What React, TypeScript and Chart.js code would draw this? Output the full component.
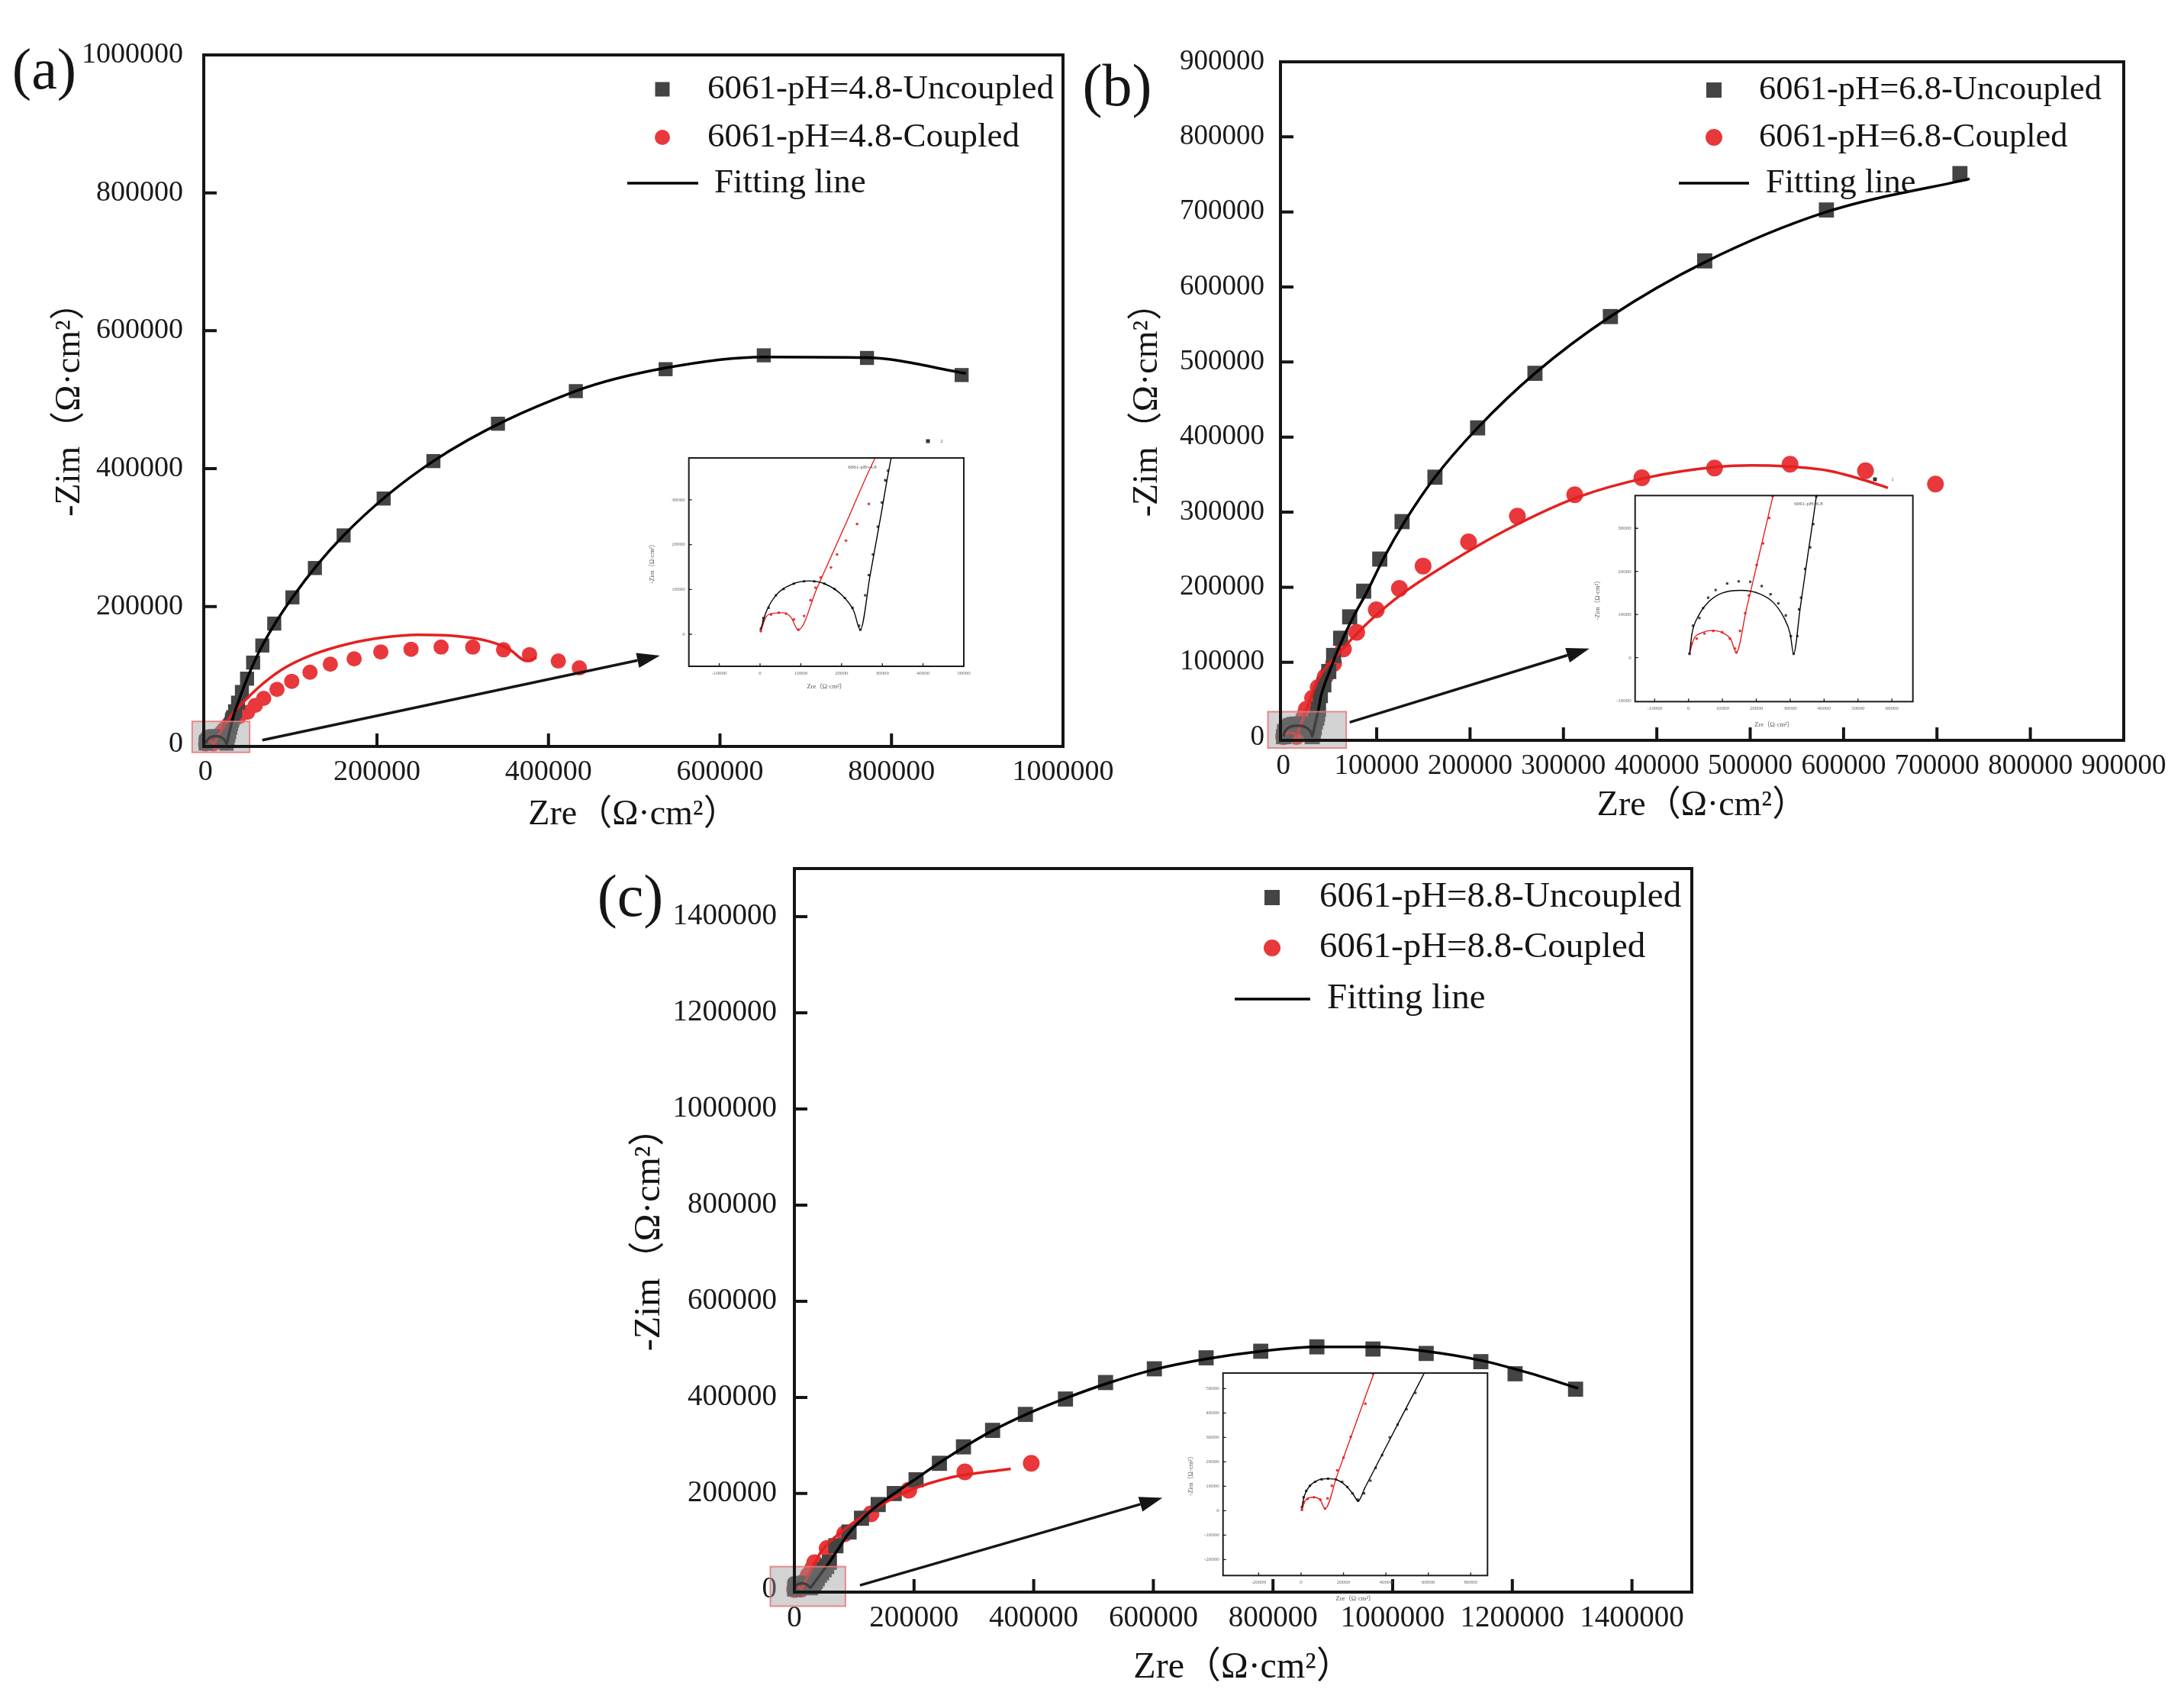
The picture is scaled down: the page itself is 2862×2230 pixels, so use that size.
import React, { useEffect, useRef } from 'react';
import { Chart, registerables } from 'chart.js';

Chart.register(...registerables);

type Pt = [number, number];

// ---------- (a) 6061, pH = 4.8 ----------
const A_UNCOUPLED: Pt[] = [
  [200, 1200], [800, 3600], [2100, 5900], [3900, 8700], [5800, 10100], [8300, 11300], [10800, 11800],
  [13300, 11800], [15800, 11300], [18300, 10100], [20800, 8100], [22700, 5900], [24300, 1900], [24600, 1000],
  [25800, 8700], [26700, 13200], [27700, 17800], [28900, 24000], [29900, 29400], [30800, 34300], [31400, 36500],
  [32200, 39400], [34500, 48000], [38000, 60500], [42500, 76000], [48500, 95300], [55600, 118600],
  [66300, 143400], [80200, 175200], [101400, 213200], [127600, 255800], [161100, 303100], [207800, 356600],
  [265800, 410900], [341100, 465100], [431900, 512400], [536600, 544200], [651100, 564300], [771400, 560500],
  [881800, 535700],
];
const A_COUPLED: Pt[] = [
  [200, 700], [800, 3000], [2700, 4400], [4600, 4800], [6400, 4600], [8300, 3300], [9400, 1000], [10800, 4100],
  [12400, 7600], [13600, 10400], [14900, 12700], [17400, 14900], [18900, 17800], [21100, 20900], [23800, 24600],
  [26700, 29100], [30700, 34400], [39000, 40000], [49100, 46500], [58100, 56600], [67900, 66700], [83400, 79800],
  [100600, 91500], [121900, 104700], [145600, 116300], [173400, 124000], [204500, 134100], [239700, 138000],
  [274800, 141100], [311700, 141100], [347600, 137200], [377900, 130200], [411500, 120900], [436000, 110900],
];
const A_UNCOUPLED_FIT: Pt[] = [
  [200, 1200], [1500, 5000], [4000, 8800], [8000, 11200], [12000, 11900], [16000, 11200], [20000, 8800],
  [23000, 5200], [24600, 1000], [27000, 13100], [29500, 25700], [32200, 39400], [38000, 60500], [48500, 95300],
  [66300, 143400], [101400, 213200], [161100, 303100], [265800, 410900], [431900, 512400], [536600, 546000],
  [651100, 562000], [771400, 561000], [887000, 538000],
];
const A_COUPLED_FIT: Pt[] = [
  [200, 700], [1500, 3900], [3500, 4700], [5500, 4800], [7500, 3900], [9400, 1000], [14000, 10350],
  [21000, 24570], [28300, 39400], [40000, 56000], [52000, 71000], [67900, 89000], [92400, 110900],
  [125200, 130200], [166000, 145700], [206900, 155000], [247900, 158900], [288700, 157400], [330000, 149600],
  [354200, 138000], [374600, 121000], [386000, 126000],
];
const A_TICKS_X = [0, 200000, 400000, 600000, 800000, 1000000];
const A_TICKS_Y = [0, 200000, 400000, 600000, 800000, 1000000];
const A_INSET_TICKS_X = [-10000, 0, 10000, 20000, 30000, 40000, 50000];
const A_INSET_TICKS_Y = [0, 10000, 20000, 30000];
const A_NAMES = ['6061-pH=4.8-Uncoupled', '6061-pH=4.8-Coupled'];

// ---------- (b) 6061, pH = 6.8 ----------
const B_UNCOUPLED: Pt[] = [
  [300, 900], [1300, 7400], [3200, 9200], [4300, 11500], [5800, 13900], [8000, 15700], [11400, 17200],
  [14800, 17700], [18200, 17600], [21600, 16600], [24200, 14700], [26500, 12600], [28700, 9800], [30200, 5000],
  [31000, 900], [32100, 5000], [32600, 11200], [33200, 13900], [34400, 20600], [35900, 25600], [36800, 31000],
  [37700, 37400], [39700, 55600], [43400, 69900], [48700, 87700], [53900, 109100], [61400, 132000],
  [71100, 160500], [86100, 194700], [103300, 237500], [127200, 287400], [162400, 346600], [208100, 412300],
  [269500, 485000], [350300, 560600], [451300, 634800], [581600, 702600], [724600, 751100],
];
const B_COUPLED: Pt[] = [
  [300, 900], [900, 3200], [2400, 4400], [4700, 5600], [7300, 6200], [9900, 5900], [12200, 4400], [13700, 2100],
  [14100, 1200], [15200, 6200], [16700, 10300], [17800, 14400], [20100, 21500], [22000, 26500], [23800, 32400],
  [24800, 37400], [31400, 52100], [37400, 66300], [44900, 80600], [53900, 98400], [64400, 117700],
  [78600, 139800], [99600, 169800], [124300, 198300], [149700, 228200], [198400, 260300], [250700, 294600],
  [312100, 323100], [384000, 345900], [461800, 358800], [542700, 363800], [623500, 355200], [698400, 337400],
];
const B_UNCOUPLED_FIT: Pt[] = [
  [300, 900], [1000, 5500], [3000, 9800], [6000, 13000], [10000, 15000], [15500, 15600], [21000, 14800],
  [25000, 12800], [28000, 9500], [30000, 5500], [31000, 900], [33000, 11800], [35000, 22700], [37800, 38000],
  [40500, 55600], [44000, 69900], [49500, 87700], [56000, 109100], [64000, 132000], [75000, 160500],
  [90000, 194700], [107000, 237500], [130000, 287400], [162400, 346600], [208100, 412300], [269500, 485000],
  [350300, 560600], [451300, 633000], [581600, 700000], [735000, 744000],
];
const B_COUPLED_FIT: Pt[] = [
  [300, 900], [1500, 4200], [4000, 5800], [7000, 6300], [10000, 5800], [12500, 4200], [14100, 1200],
  [17000, 10930], [21000, 24380], [25000, 37800], [37400, 77000], [59900, 112700], [89800, 151900],
  [127200, 191200], [179600, 233900], [239500, 276700], [314400, 319500], [389200, 345900], [464100, 360200],
  [501500, 362300], [538900, 360900], [583800, 355200], [621300, 343000], [647500, 332400],
];
const B_TICKS_X = [0, 100000, 200000, 300000, 400000, 500000, 600000, 700000, 800000, 900000];
const B_TICKS_Y = [0, 100000, 200000, 300000, 400000, 500000, 600000, 700000, 800000, 900000];
const B_INSET_TICKS_X = [-10000, 0, 10000, 20000, 30000, 40000, 50000, 60000];
const B_INSET_TICKS_Y = [-10000, 0, 10000, 20000, 30000];
const B_NAMES = ['6061-pH=6.8-Uncoupled', '6061-pH=6.8-Coupled'];

// ---------- (c) 6061, pH = 8.8 ----------
const C_UNCOUPLED: Pt[] = [
  [400, 1350], [1200, 5500], [2400, 8100], [4200, 10200], [6700, 11800], [9700, 12800], [12700, 13100],
  [16400, 12800], [19400, 11800], [21800, 9700], [24200, 7100], [26700, 4500], [26900, 4000], [29700, 7100],
  [32700, 12300], [35200, 17500], [38200, 22700], [41800, 30000], [45500, 35200], [49700, 41500], [53900, 48200],
  [58500, 57100], [69400, 91400], [91400, 120000], [112100, 148600], [140100, 177100], [166900, 200000],
  [203400, 228600], [242400, 262900], [282600, 297100], [331300, 331400], [386100, 364600], [453100, 396600],
  [520100, 430900], [601700, 459400], [688200, 482300], [779500, 496000], [873300, 505100], [967100, 500600],
  [1056000, 491400], [1147400, 474300], [1204600, 449100], [1305700, 417100],
];
const C_COUPLED: Pt[] = [
  [400, 300], [1200, 3400], [3000, 4800], [6100, 5500], [9100, 4500], [11300, 800], [12500, 5000],
  [14500, 10200], [17000, 16500], [20000, 21700], [23400, 30200], [30300, 43800], [33900, 56000],
  [54800, 85700], [84000, 116600], [127900, 157700], [191200, 207000], [285000, 245000], [395900, 263000],
];
const C_UNCOUPLED_FIT: Pt[] = [
  [400, 1350], [1500, 6000], [4000, 10000], [8000, 12500], [12700, 13100], [17000, 12600], [21000, 10300],
  [24500, 6800], [26900, 4000], [30000, 9200], [35000, 17600], [42000, 29400], [50000, 42800], [58500, 57100],
  [75000, 88000], [91400, 118000], [112100, 146000], [140100, 176000], [166900, 200000], [203400, 231000],
  [242400, 264000], [282600, 296000], [331300, 331000], [386100, 364000], [453100, 398000], [520100, 428000],
  [601700, 458000], [688200, 480000], [779500, 496000], [873300, 505000], [967100, 505000], [1056000, 496000],
  [1147400, 477000], [1230000, 450000], [1310000, 419000],
];
const C_COUPLED_FIT: Pt[] = [
  [400, 300], [2000, 4200], [5500, 5500], [9000, 4500], [11300, 800], [17000, 14510], [25000, 33750],
  [34500, 56600], [45100, 80000], [81700, 123400], [130300, 165700], [191200, 205700], [264300, 234300],
  [325200, 245700], [361700, 251400],
];
const C_TICKS_X = [0, 200000, 400000, 600000, 800000, 1000000, 1200000, 1400000];
const C_TICKS_Y = [0, 200000, 400000, 600000, 800000, 1000000, 1200000, 1400000];
const C_INSET_TICKS_X = [-20000, 0, 20000, 40000, 60000, 80000];
const C_INSET_TICKS_Y = [-20000, -10000, 0, 10000, 20000, 30000, 40000, 50000];
const C_NAMES = ['6061-pH=8.8-Uncoupled', '6061-pH=8.8-Coupled'];

const FIT_NAME = 'Fitting line';
const X_TITLE = 'Zre（Ω·cm²）';
const Y_TITLE = '-Zim（Ω·cm²）';

// ---------- styling ----------
const SERIF = "'Liberation Serif', 'Times New Roman', 'Noto Sans CJK SC', serif";
const GREY = '#444444';
const RED = '#e8383b';
const RED_LINE = '#e3211f';
const INK = '#151515';

interface Box { left: number; top: number; right: number; bottom: number; }
interface Series { uncoupled: Pt[]; coupled: Pt[]; uncoupledFit: Pt[]; coupledFit: Pt[]; }

interface Spec {
  canvas: Box;
  area: Box;
  xRange: [number, number];
  yRange: [number, number];
  xTicks: number[];
  yTicks: number[];
  tickFont: number;
  tickColor: string;
  tickPadX: number;
  tickPadY: number;
  titleFont: number;
  titleColor: string;
  xTitleY: number;
  yTitleX: number;
  series: Series;
  squareR: number;
  circleR: number;
  fitWidth: number;
  clip: number | false;
  whiteArea: boolean;
  decor: (chart: Chart, s: Spec) => void;
}

interface MainExtras {
  names: string[];
  legend: { markerX: number; rows: number[]; lineX: [number, number]; textX: number; fitTextX: number; font: number; square: number; circle: number };
  tag: { text: string; x: number; y: number; size: number };
  zoomBox: [number, number, number, number];
  arrow: [number, number, number, number];
}

interface InsetExtras {
  notes: { text: string; x: number; y: number }[];
  marks: { x: number; y: number }[];
}

// short tick marks pointing into the plot area
function inwardTicks(chart: Chart, len: number, width: number) {
  const { ctx, chartArea: a } = chart;
  const xs = chart.scales.x;
  const ys = chart.scales.y;
  ctx.lineWidth = width;
  ctx.beginPath();
  for (const t of xs.ticks) {
    const p = xs.getPixelForValue(t.value);
    if (p - a.left < 4 || a.right - p < 4) continue;
    ctx.moveTo(p, a.bottom);
    ctx.lineTo(p, a.bottom - len);
  }
  for (const t of ys.ticks) {
    const p = ys.getPixelForValue(t.value);
    if (p - a.top < 4 || a.bottom - p < 4) continue;
    ctx.moveTo(a.left, p);
    ctx.lineTo(a.left + len, p);
  }
  ctx.stroke();
}

function mainDecor(ex: MainExtras) {
  return (chart: Chart, s: Spec) => {
    const { ctx, chartArea: a } = chart;
    const xs = chart.scales.x;
    const ys = chart.scales.y;
    const ox = s.canvas.left;
    const oy = s.canvas.top;
    ctx.save();

    // shaded zoom window at the origin
    const [bx0, by0, bx1, by1] = ex.zoomBox;
    const p0x = xs.getPixelForValue(bx0);
    const p1x = xs.getPixelForValue(bx1);
    const p0y = ys.getPixelForValue(by0);
    const p1y = ys.getPixelForValue(by1);
    ctx.fillStyle = 'rgba(150,150,150,0.42)';
    ctx.fillRect(p0x, p0y, p1x - p0x, p1y - p0y);
    ctx.strokeStyle = 'rgba(232,120,120,0.85)';
    ctx.lineWidth = 2;
    ctx.strokeRect(p0x, p0y, p1x - p0x, p1y - p0y);

    // arrow pointing to the inset
    const [ax0, ay0, ax1, ay1] = ex.arrow;
    const x0 = xs.getPixelForValue(ax0);
    const y0 = ys.getPixelForValue(ay0);
    const x1 = xs.getPixelForValue(ax1);
    const y1 = ys.getPixelForValue(ay1);
    const ang = Math.atan2(y1 - y0, x1 - x0);
    const head = 30;
    const hw = 10;
    const hx = x1 - head * Math.cos(ang);
    const hy = y1 - head * Math.sin(ang);
    ctx.strokeStyle = INK;
    ctx.fillStyle = INK;
    ctx.lineWidth = 3.5;
    ctx.beginPath();
    ctx.moveTo(x0, y0);
    ctx.lineTo(hx, hy);
    ctx.stroke();
    ctx.beginPath();
    ctx.moveTo(x1, y1);
    ctx.lineTo(hx + hw * Math.sin(ang), hy - hw * Math.cos(ang));
    ctx.lineTo(hx - hw * Math.sin(ang), hy + hw * Math.cos(ang));
    ctx.closePath();
    ctx.fill();

    // frame and inward ticks
    ctx.strokeStyle = INK;
    ctx.lineWidth = 4;
    ctx.strokeRect(a.left, a.top, a.right - a.left, a.bottom - a.top);
    inwardTicks(chart, 17, 4);

    // legend
    const L = ex.legend;
    const mx = L.markerX - ox;
    ctx.fillStyle = GREY;
    ctx.fillRect(mx - L.square / 2, L.rows[0] - oy - L.square / 2, L.square, L.square);
    ctx.fillStyle = RED;
    ctx.beginPath();
    ctx.arc(mx, L.rows[1] - oy, L.circle, 0, Math.PI * 2);
    ctx.fill();
    ctx.strokeStyle = '#000';
    ctx.lineWidth = 3.5;
    ctx.beginPath();
    ctx.moveTo(L.lineX[0] - ox, L.rows[2] - oy);
    ctx.lineTo(L.lineX[1] - ox, L.rows[2] - oy);
    ctx.stroke();
    ctx.fillStyle = INK;
    ctx.font = `${L.font}px ${SERIF}`;
    ctx.textAlign = 'left';
    ctx.textBaseline = 'middle';
    ctx.fillText(ex.names[0], L.textX - ox, L.rows[0] - oy);
    ctx.fillText(ex.names[1], L.textX - ox, L.rows[1] - oy);
    ctx.fillText(FIT_NAME, L.fitTextX - ox, L.rows[2] - oy);

    // panel tag
    ctx.font = `${ex.tag.size}px ${SERIF}`;
    ctx.textAlign = 'center';
    ctx.fillText(ex.tag.text, ex.tag.x - ox, ex.tag.y - oy);
    ctx.restore();
  };
}

function insetDecor(ex: InsetExtras) {
  return (chart: Chart, s: Spec) => {
    const { ctx, chartArea: a } = chart;
    ctx.save();
    ctx.strokeStyle = '#1c1c1c';
    ctx.lineWidth = 2;
    ctx.strokeRect(a.left, a.top, a.right - a.left, a.bottom - a.top);
    inwardTicks(chart, 4, 1.3);
    ctx.fillStyle = '#555';
    ctx.font = `7px ${SERIF}`;
    ctx.textAlign = 'center';
    ctx.textBaseline = 'middle';
    for (const n of ex.notes) ctx.fillText(n.text, n.x - s.canvas.left, n.y - s.canvas.top);
    ctx.fillStyle = '#333';
    for (const m of ex.marks) ctx.fillRect(m.x - s.canvas.left - 2.5, m.y - s.canvas.top - 2.5, 5, 5);
    ctx.restore();
  };
}

const toXY = (pts: Pt[]) => pts.map(([x, y]) => ({ x, y }));

function buildChart(el: HTMLCanvasElement, s: Spec): Chart {
  const cb = s.canvas;
  const area = s.area;
  const half = s.titleFont * 0.6;
  const tickFont = { family: SERIF, size: s.tickFont };
  const titleFont = { family: SERIF, size: s.titleFont };
  const plugin = {
    id: 'panelDecor',
    beforeDraw(chart: Chart) {
      if (!s.whiteArea) return;
      const { ctx, chartArea: a } = chart;
      ctx.save();
      ctx.fillStyle = '#ffffff';
      ctx.fillRect(a.left, a.top, a.right - a.left, a.bottom - a.top);
      ctx.restore();
    },
    afterDatasetsDraw(chart: Chart) {
      s.decor(chart, s);
    },
  };
  return new Chart(el, {
    type: 'scatter',
    data: {
      datasets: [
        { data: toXY(s.series.uncoupledFit), showLine: true, pointRadius: 0, borderColor: '#000', borderWidth: s.fitWidth, cubicInterpolationMode: 'monotone', order: 0, clip: s.clip },
        { data: toXY(s.series.coupledFit), showLine: true, pointRadius: 0, borderColor: RED_LINE, borderWidth: s.fitWidth, cubicInterpolationMode: 'monotone', order: 0, clip: s.clip },
        { data: toXY(s.series.uncoupled), pointStyle: 'rect', pointRadius: s.squareR, backgroundColor: GREY, borderColor: GREY, borderWidth: 0, order: 1, clip: s.clip },
        { data: toXY(s.series.coupled), pointStyle: 'circle', pointRadius: s.circleR, backgroundColor: RED, borderColor: RED, borderWidth: 0, order: 1, clip: s.clip },
      ],
    } as any,
    options: {
      responsive: false,
      animation: false,
      devicePixelRatio: 1,
      events: [],
      layout: { padding: { left: 0, top: area.top - cb.top, right: cb.right - area.right, bottom: 0 } },
      plugins: { legend: { display: false }, tooltip: { enabled: false } },
      scales: {
        x: {
          type: 'linear',
          position: 'bottom',
          min: s.xRange[0],
          max: s.xRange[1],
          grid: { display: false, drawTicks: false },
          border: { display: false },
          ticks: { autoSkip: false, maxRotation: 0, minRotation: 0, padding: s.tickPadX, font: tickFont, color: s.tickColor, callback: (v: any) => String(v) },
          title: { display: true, text: X_TITLE, font: titleFont, color: s.titleColor, padding: { top: 0, bottom: cb.bottom - s.xTitleY - half } },
          afterBuildTicks: (sc: any) => { sc.ticks = s.xTicks.map((value) => ({ value })); },
          afterFit: (sc: any) => { sc.height = cb.bottom - area.bottom; sc.paddingLeft = 0; sc.paddingRight = 0; },
        },
        y: {
          type: 'linear',
          position: 'left',
          min: s.yRange[0],
          max: s.yRange[1],
          grid: { display: false, drawTicks: false },
          border: { display: false },
          ticks: { autoSkip: false, padding: s.tickPadY, font: tickFont, color: s.tickColor, callback: (v: any) => String(v) },
          title: { display: true, text: Y_TITLE, font: titleFont, color: s.titleColor, padding: { top: s.yTitleX - cb.left - half, bottom: 0 } },
          afterBuildTicks: (sc: any) => { sc.ticks = s.yTicks.map((value) => ({ value })); },
          afterFit: (sc: any) => { sc.width = area.left - cb.left; sc.paddingTop = 0; sc.paddingBottom = 0; },
        },
      },
    } as any,
    plugins: [plugin as any],
  });
}

const SERIES_A: Series = { uncoupled: A_UNCOUPLED, coupled: A_COUPLED, uncoupledFit: A_UNCOUPLED_FIT, coupledFit: A_COUPLED_FIT };
const SERIES_B: Series = { uncoupled: B_UNCOUPLED, coupled: B_COUPLED, uncoupledFit: B_UNCOUPLED_FIT, coupledFit: B_COUPLED_FIT };
const SERIES_C: Series = { uncoupled: C_UNCOUPLED, coupled: C_COUPLED, uncoupledFit: C_UNCOUPLED_FIT, coupledFit: C_COUPLED_FIT };

const mainBase = { tickColor: '#1a1a1a', titleColor: '#141414', fitWidth: 3.5, clip: false as const, whiteArea: false };
const insetBase = { tickFont: 7, tickColor: '#6a6a6a', titleFont: 8.5, titleColor: '#555', squareR: 2.2, circleR: 1.8, fitWidth: 1.4, clip: 1, whiteArea: true, tickPadX: 5, tickPadY: 5 };

const SPECS: Spec[] = [
  {
    ...mainBase,
    canvas: { left: 0, top: 30, right: 1480, bottom: 1130 },
    area: { left: 267, top: 72, right: 1393, bottom: 978 },
    xRange: [-2000, 1000000], yRange: [-3000, 1000000],
    xTicks: A_TICKS_X, yTicks: A_TICKS_Y,
    tickFont: 38, tickPadX: 11, tickPadY: 27,
    titleFont: 46, xTitleY: 1068, yTitleX: 92,
    series: SERIES_A, squareR: 13, circleR: 10,
    decor: mainDecor({
      names: A_NAMES,
      legend: { markerX: 868, rows: [117, 180, 240], lineX: [822, 915], textX: 927, fitTextX: 936, font: 45, square: 19, circle: 10 },
      tag: { text: '(a)', x: 58, y: 96, size: 76 },
      zoomBox: [-15500, 33300, 51500, -11600],
      arrow: [66300, 6200, 530000, 128700],
    }),
  },
  {
    ...mainBase,
    canvas: { left: 1400, top: 30, right: 2860, bottom: 1130 },
    area: { left: 1678, top: 81, right: 2783, bottom: 970 },
    xRange: [-3000, 900000], yRange: [-4000, 900000],
    xTicks: B_TICKS_X, yTicks: B_TICKS_Y,
    tickFont: 37, tickPadX: 12, tickPadY: 21,
    titleFont: 46, xTitleY: 1056, yTitleX: 1504,
    series: SERIES_B, squareR: 14, circleR: 11,
    decor: mainDecor({
      names: B_NAMES,
      legend: { markerX: 2246, rows: [118, 180, 240], lineX: [2200, 2292], textX: 2305, fitTextX: 2314, font: 44.5, square: 20, circle: 11 },
      tag: { text: '(b)', x: 1464, y: 118, size: 78 },
      zoomBox: [-16500, 34200, 67400, -14300],
      arrow: [71100, 20000, 327800, 118400],
    }),
  },
  {
    ...mainBase,
    canvas: { left: 760, top: 1110, right: 2280, bottom: 2230 },
    area: { left: 1041, top: 1138, right: 2217, bottom: 2086 },
    xRange: [0, 1500000], yRange: [-5000, 1500000],
    xTicks: C_TICKS_X, yTicks: C_TICKS_Y,
    tickFont: 39, tickPadX: 11, tickPadY: 23,
    titleFont: 48, xTitleY: 2185, yTitleX: 851,
    series: SERIES_C, squareR: 14, circleR: 11,
    decor: mainDecor({
      names: C_NAMES,
      legend: { markerX: 1667, rows: [1176, 1242, 1309], lineX: [1618, 1717], textX: 1729, fitTextX: 1739, font: 47, square: 20, circle: 11 },
      tag: { text: '(c)', x: 826, y: 1180, size: 78 },
      zoomBox: [-40200, 48000, 85300, -34300],
      arrow: [109600, 9100, 615100, 190900],
    }),
  },
  {
    ...insetBase,
    canvas: { left: 840, top: 560, right: 1280, bottom: 910 },
    area: { left: 902.7, top: 600, right: 1263, bottom: 873 },
    xRange: [-17470, 50000], yRange: [-7150, 39350],
    xTicks: A_INSET_TICKS_X, yTicks: A_INSET_TICKS_Y,
    xTitleY: 900, yTitleX: 855,
    series: SERIES_A,
    decor: insetDecor({ notes: [{ text: '6061-pH=4.8', x: 1130, y: 612 }, { text: '2', x: 1234, y: 578 }], marks: [{ x: 1216, y: 578 }] }),
  },
  {
    ...insetBase,
    canvas: { left: 2080, top: 600, right: 2520, bottom: 962 },
    area: { left: 2142.7, top: 649.3, right: 2506.7, bottom: 919.3 },
    xRange: [-15770, 66200], yRange: [-10200, 37600],
    xTicks: B_INSET_TICKS_X, yTicks: B_INSET_TICKS_Y,
    xTitleY: 950, yTitleX: 2094,
    series: SERIES_B,
    decor: insetDecor({ notes: [{ text: '6061-pH=6.8', x: 2370, y: 660 }, { text: '1', x: 2480, y: 628 }], marks: [{ x: 2457, y: 628 }] }),
  },
  {
    ...insetBase,
    canvas: { left: 1540, top: 1780, right: 1960, bottom: 2105 },
    area: { left: 1602.7, top: 1799, right: 1949.3, bottom: 2064.3 },
    xRange: [-36800, 87900], yRange: [-26560, 56340],
    xTicks: C_INSET_TICKS_X, yTicks: C_INSET_TICKS_Y,
    xTitleY: 2095, yTitleX: 1561,
    series: SERIES_C,
    decor: insetDecor({ notes: [], marks: [] }),
  },
];

function ChartCanvas({ spec }: { spec: Spec }) {
  const ref = useRef<HTMLCanvasElement>(null);
  const w = spec.canvas.right - spec.canvas.left;
  const h = spec.canvas.bottom - spec.canvas.top;
  useEffect(() => {
    if (!ref.current) return;
    const chart = buildChart(ref.current, spec);
    return () => chart.destroy();
  }, [spec]);
  return (
    <canvas
      ref={ref}
      width={w}
      height={h}
      style={{ position: 'absolute', left: spec.canvas.left, top: spec.canvas.top, width: w, height: h }}
    />
  );
}

export default function App() {
  return (
    <div style={{ position: 'absolute', left: 0, top: 0, width: 2862, height: 2230, background: '#ffffff', overflow: 'hidden' }}>
      {SPECS.map((s, i) => (
        <ChartCanvas key={i} spec={s} />
      ))}
    </div>
  );
}
